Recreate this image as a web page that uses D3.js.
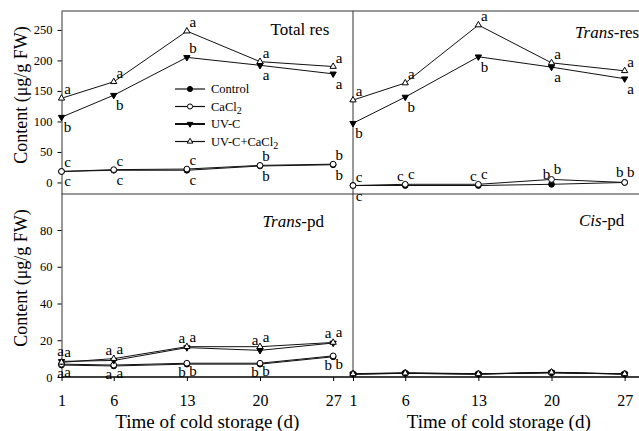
<!DOCTYPE html>
<html>
<head>
<meta charset="utf-8">
<script src="https://cdn.jsdelivr.net/npm/d3@7"></script>
<style>
  body { margin: 0; background: #fff; }
  svg { display: block; font-family: "Liberation Serif", "Times New Roman", serif; }
  text { fill: #000; }
</style>
</head>
<body>
<div id="chart"></div>
<script>
// days of cold storage
const days = [1, 6, 13, 20, 27];
const seriesNames = ["Control", "CaCl2", "UV-C", "UV-C+CaCl2"];

// values per series, order = seriesNames
const totalRes = [
  [18, 20, 20, 27, 29],
  [18, 21, 22, 28, 30],
  [107, 143, 205, 192, 178],
  [138, 165, 248, 198, 190]
];
const transRes = [
  [-5, -5, -5, -3, 0],
  [-5, -3, -3, 5, 0],
  [97, 140, 206, 189, 170],
  [135, 163, 258, 196, 183]
];
const transPd = [
  [6.5, 6, 7, 7, 11],
  [7, 6.5, 7.5, 7.5, 11.5],
  [8.5, 9, 16, 14.5, 18.5],
  [8, 10, 16.5, 16.5, 18.8]
];
const cisPd = [
  [1.5, 2, 1.5, 2.5, 1.5],
  [1.8, 2.3, 1.8, 2.2, 1.8],
  [1.6, 2, 1.6, 2.4, 1.6],
  [1.7, 2.1, 1.7, 2.6, 1.7]
];

// significance letters
const totalResLetters = [
  ["c", "c", "c", "b", "b"],
  ["c", "c", "c", "b", "b"],
  ["b", "b", "b", "a", "a"],
  ["a", "a", "a", "a", "a"]
];
const transResLetters = [
  ["c", "c", "c", "b", "b"],
  ["c", "c", "c", "b", "b"],
  ["b", "b", "b", "a", "a"],
  ["a", "a", "a", "a", "a"]
];
const transPdLetters = [
  ["a", "a", "b", "b", "b"],
  ["a", "a", "b", "b", "b"],
  ["a", "a", "a", "a", "a"],
  ["a", "a", "a", "a", "a"]
];

const yTicksTop = [0, 50, 100, 150, 200, 250];
const yTicksBottom = [0, 20, 40, 60, 80];

// where each letter goes: u above, d below, l/r pair above, L/R pair below
const totalResPlace = ["ddddd", "uuuuu", "ddudd", "uuuuu"];
const transResPlace = ["dllll", "urrrr", "ddddd", "uuuuu"];
const transPdPlace = ["LLLLL", "RRRRR", "lllll", "rrrrr"];
const cisPdPlace = ["", "", "", ""];

const W = 639, H = 431;
const svg = d3.select("#chart").append("svg")
  .attr("width", W).attr("height", H);

const x0L = 61.5, x0R = 353, pw = 291.5;

const yScaleTop = d3.scaleLinear().domain([-18.9, 281]).range([194, 11]);
const yScaleBot = d3.scaleLinear().domain([0, 99.6]).range([377, 194]);

const offsets = {
  u: [6, -4], d: [6, 15], l: [-5, -5], r: [6, -5],
  L: [-5, 13], R: [6, 13]
};

const symbols = [
  { type: d3.symbolCircle, size: 26, fill: "#000", rot: 0 },
  { type: d3.symbolCircle, size: 26, fill: "#fff", rot: 0 },
  { type: d3.symbolTriangle, size: 17, fill: "#000", rot: 180 },
  { type: d3.symbolTriangle, size: 17, fill: "#fff", rot: 0 }
];

const panels = [
  { data: totalRes, letters: totalResLetters, place: totalResPlace, x0: x0L, y: yScaleTop, title: [["Total res", false]], tx: 209, ty: 35 },
  { data: transRes, letters: transResLetters, place: transResPlace, x0: x0R, y: yScaleTop, title: [["Trans", true], ["-res", false]], tx: 222, ty: 38 },
  { data: transPd, letters: transPdLetters, place: transPdPlace, x0: x0L, y: yScaleBot, title: [["Trans", true], ["-pd", false]], tx: 201, ty: 227 },
  { data: cisPd, letters: null, place: cisPdPlace, x0: x0R, y: yScaleBot, title: [["Cis", true], ["-pd", false]], tx: 226, ty: 226 }
];

// frame lines
svg.append("line").attr("x1", x0L).attr("x2", W).attr("y1", 11).attr("y2", 11).attr("stroke", "#333");
svg.append("line").attr("x1", x0L).attr("x2", W).attr("y1", 194).attr("y2", 194).attr("stroke", "#333");
svg.append("line").attr("x1", x0L).attr("x2", W).attr("y1", 377).attr("y2", 377).attr("stroke", "#000").attr("stroke-width", 1.3);
svg.append("line").attr("x1", x0R).attr("x2", x0R).attr("y1", 11).attr("y2", 377).attr("stroke", "#333");

// y axes on the left
function yAxis(scale, ticks) {
  const g = svg.append("g")
    .attr("transform", "translate(" + x0L + ",0)")
    .call(d3.axisLeft(scale).tickValues(ticks).tickSize(4).tickPadding(5).tickSizeOuter(0));
  g.select(".domain").attr("stroke", "#333");
  g.selectAll("text").style("font-size", "12.5px").style("font-family", "Liberation Serif").attr("fill", "#000");
}
yAxis(yScaleTop, yTicksTop);
yAxis(yScaleBot, yTicksBottom);

panels.forEach(function (p) {
  const x = d3.scaleLinear().domain([1, 28.9]).range([p.x0, p.x0 + pw]);
  const g = svg.append("g");

  // x axis ticks only on bottom panels
  if (p.y === yScaleBot) {
    const ax = svg.append("g")
      .attr("transform", "translate(0,377)")
      .call(d3.axisBottom(x).tickValues(days).tickSize(4).tickPadding(14).tickSizeOuter(0));
    ax.select(".domain").remove();
    ax.selectAll("text").style("font-size", "16px").style("font-family", "Liberation Serif").attr("fill", "#000");
  }

  const line = d3.line()
    .x(function (d, i) { return x(days[i]) })
    .y(function (d) { return p.y(d) });

  g.selectAll(".series")
    .data(p.data)
    .enter()
    .append("path")
    .attr("d", function (d) { return line(d) })
    .attr("fill", "none")
    .attr("stroke", "#111")
    .attr("stroke-width", 1);

  p.data.forEach(function (vals, s) {
    const sym = symbols[s];
    g.selectAll(".pt" + s)
      .data(vals)
      .enter()
      .append("path")
      .attr("d", d3.symbol().type(sym.type).size(sym.size))
      .attr("transform", function (d, i) { return "translate(" + x(days[i]) + "," + p.y(d) + ") rotate(" + sym.rot + ")" })
      .attr("fill", sym.fill)
      .attr("stroke", "#000")
      .attr("stroke-width", 1);

    if (p.letters) {
      g.selectAll(".lt" + s)
        .data(p.letters[s])
        .enter()
        .append("text")
        .attr("x", function (d, i) {
          const o = offsets[p.place[s][i]];
          return x(days[i]) + o[0] + (i === 0 && o[0] < 0 ? 4 : 0);
        })
        .attr("y", function (d, i) { return p.y(vals[i]) + offsets[p.place[s][i]][1] })
        .attr("text-anchor", "middle")
        .attr("fill", "#000")
        .style("font-size", "15px")
        .text(function (d) { return d });
    }
  });

  const t = svg.append("text")
    .attr("x", p.x0 + p.tx)
    .attr("y", p.ty)
    .style("font-size", "17px");
  p.title.forEach(function (part) {
    t.append("tspan").style("font-style", part[1] ? "italic" : "normal").text(part[0]);
  });
});

// legend
const legend = svg.append("g");
seriesNames.forEach(function (name, i) {
  const ly = 89 + i * 17.5;
  legend.append("line").attr("x1", 175).attr("x2", 205).attr("y1", ly).attr("y2", ly)
    .attr("stroke", "#111").attr("stroke-width", i === 2 ? 2 : 1.2);
  const sym = symbols[i];
  legend.append("path")
    .attr("d", d3.symbol().type(sym.type).size(sym.size * 0.8))
    .attr("transform", "translate(190," + ly + ") rotate(" + sym.rot + ")")
    .attr("fill", sym.fill).attr("stroke", "#000");
  const t = legend.append("text").attr("x", 211).attr("y", ly + 4).style("font-size", "12.5px");
  const m = name.match(/^(.*Cl)2$/);
  if (m) {
    t.append("tspan").text(m[1]);
    t.append("tspan").attr("dy", 3).style("font-size", "10px").text("2");
  } else {
    t.text(name);
  }
});

// axis titles
[95, 278].forEach(function (cy) {
  svg.append("text")
    .attr("transform", "translate(27," + cy + ") rotate(-90)")
    .attr("text-anchor", "middle")
    .style("font-size", "18px")
    .text("Content (μg/g FW)");
});
[x0L + pw / 2, x0R + pw / 2].forEach(function (cx) {
  svg.append("text")
    .attr("x", cx).attr("y", 428)
    .attr("text-anchor", "middle")
    .style("font-size", "19px")
    .text("Time of cold storage (d)");
});
</script>
</body>
</html>
